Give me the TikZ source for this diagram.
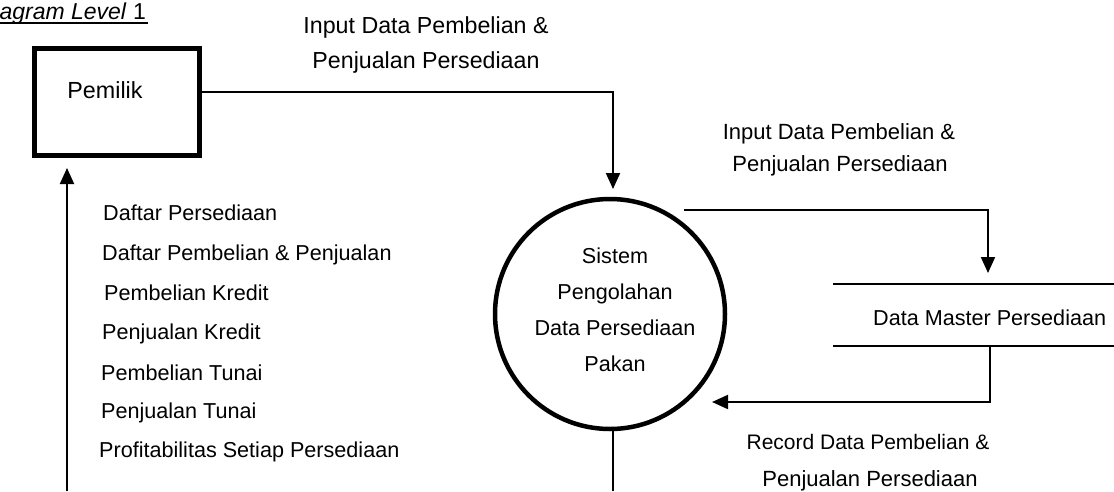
\documentclass[tikz,border=0pt]{standalone}
\usepackage{fontspec}
\setmainfont{Liberation Sans}
\usetikzlibrary{arrows.meta}
\newcommand{\fsz}[1]{\fontsize{#1}{1.2\dimexpr #1pt\relax}\selectfont}
\begin{document}
\begin{tikzpicture}[x=1pt,y=-1pt,
  lbl/.style={inner sep=0pt, anchor=base, font=\fontsize{21.6}{26}\selectfont},
  lbll/.style={lbl, anchor=base west},
  conn/.style={line width=2pt},
  flow/.style={conn, -{Triangle[length=16pt,width=14pt]}},
]
\useasboundingbox (0,0) rectangle (1114,491);

% title
\node[lbl, anchor=base east, font=\fontsize{23}{27}\selectfont] (title) at (146,19) {\textit{Diagram Level} 1};
\draw[line width=2pt] (0,23) -- (148,23);

% external entity
\node[draw, line width=5pt, minimum width=165pt, minimum height=107pt, inner sep=0pt] (pemilik) at (116.5,101.5) {};
\node[lbl, font=\fontsize{23.3}{28}\selectfont] (pemiliktext) at (105,98) {Pemilik};

% process
\node[circle, draw, line width=4.5pt, minimum size=230pt, inner sep=0pt] (proc) at (610,314) {};
\node[lbl, align=center, font=\fontsize{21.6}{36}\selectfont, anchor=base] (proctext) at (615,371)
  {Sistem\\Pengolahan\\Data Persediaan\\Pakan};

% data store
\coordinate (dsa) at (833,284);
\coordinate (dsb) at (1114,284);
\coordinate (dsc) at (833,346);
\coordinate (dsd) at (1114,346);
\draw[conn] (dsa) -- (dsb);
\draw[conn] (dsc) -- (dsd);
\node[lbll] (store) at (873,325) {Data Master Persediaan};

% flow 1: Pemilik -> process
\coordinate (in1) at (613,189);
\draw[flow] ([yshift=9.5pt]pemilik.east) -| (in1);
\node[lbl, font=\fontsize{23.2}{28}\selectfont] (l1a) at (426,33) {Input Data Pembelian \&};
\node[lbl, font=\fontsize{23.2}{28}\selectfont] (l1b) at (426,68) {Penjualan Persediaan};

% flow 2: process -> data store
\coordinate (out2) at (684,210);
\coordinate (in2) at (988,273);
\draw[flow] (out2) -| (in2);
\node[lbl, font=\fontsize{22}{27}\selectfont] (l2a) at (839,139) {Input Data Pembelian \&};
\node[lbl, font=\fontsize{22}{27}\selectfont] (l2b) at (840,171) {Penjualan Persediaan};

% flow 3: data store -> process
\coordinate (out3) at (990,346);
\coordinate (in3) at (712,402);
\draw[flow] (out3) |- (in3);
\node[lbl, font=\fontsize{21}{26}\selectfont] (l3a) at (868,449) {Record Data Pembelian \&};
\node[lbl, font=\fontsize{22}{27}\selectfont] (l3b) at (870,486) {Penjualan Persediaan};

% flow 4: process -> down
\coordinate (bot) at (613,491);
\draw[conn] (bot |- proc.south) -- (bot);

% flow 5: up -> Pemilik
\coordinate (lb) at (67,491);
\coordinate (lt) at (67,168);
\draw[flow] (lb) -- (lt);
\node[lbll] (r1) at (103,220) {Daftar Persediaan};
\node[lbll] (r2) at (102,260) {Daftar Pembelian \& Penjualan};
\node[lbll] (r3) at (104,300) {Pembelian Kredit};
\node[lbll] (r4) at (102,339) {Penjualan Kredit};
\node[lbll] (r5) at (101,380) {Pembelian Tunai};
\node[lbll] (r6) at (101,418) {Penjualan Tunai};
\node[lbll] (r7) at (99,457) {Profitabilitas Setiap Persediaan};
\end{tikzpicture}
\end{document}
